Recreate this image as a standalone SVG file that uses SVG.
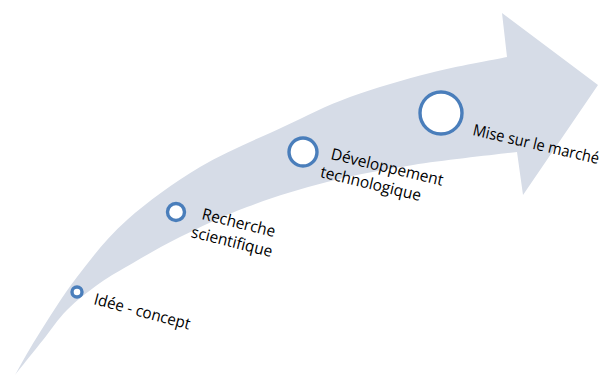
<svg xmlns="http://www.w3.org/2000/svg" width="611" height="376" viewBox="0 0 611 376">
<style>
.stage{fill:#fff;stroke:#4A7EBB;stroke-width:3.4}
.lbl{font-family:"Open Sans","Noto Sans","Liberation Sans",sans-serif;font-size:16px;fill:#000}
</style>
<rect width="611" height="376" fill="#fff"/>
<g id="arrow">
<path fill="#D6DCE7" d="M15,375 C18.7,368.7 26.7,353.3 37,337 C47.3,320.7 62,296.5 77,277 C92,257.5 106.5,238.3 127,220 C147.5,201.7 174,182.5 200,167 C226,151.5 258,138.7 283,127 C308,115.3 325.5,106 350,97 C374.5,88 403.8,79.7 430,73 C456.2,66.3 494.2,59.7 507,57 L502,13 L598,85 L523,195 L517,152 C499.7,154.2 444.7,160 413,165 C381.3,170 354.7,175 327,182 C299.3,189 271.5,197.8 247,207 C222.5,216.2 199,227.7 180,237 C161,246.3 146.3,255.3 133,263 C119.7,270.7 111,275.2 100,283 C89,290.8 76.5,300.5 67,310 C57.5,319.5 51.7,329.2 43,340 C34.3,350.8 19.7,369.2 15,375 Z"/>
</g>
<g id="connectors"></g>
<g id="idee">
<circle class="stage" cx="77" cy="292" r="5"/>
<text class="lbl" transform="translate(93,304) rotate(15)" textLength="99" lengthAdjust="spacingAndGlyphs">Idée - concept</text>
</g>
<g id="recherche">
<circle class="stage" cx="176" cy="212" r="8.5"/>
<text class="lbl" transform="translate(201,219) rotate(14)"><tspan x="0" y="0" textLength="75" lengthAdjust="spacingAndGlyphs">Recherche</tspan><tspan x="-6" y="20" textLength="83" lengthAdjust="spacingAndGlyphs">scientifique</tspan></text>
</g>
<g id="developpement">
<circle class="stage" cx="303" cy="152" r="14"/>
<text class="lbl" transform="translate(330,159) rotate(13.5)"><tspan x="0" y="0" textLength="115" lengthAdjust="spacingAndGlyphs">Développement</tspan><tspan x="-6" y="20" textLength="103" lengthAdjust="spacingAndGlyphs">technologique</tspan></text>
</g>
<g id="marche">
<circle class="stage" cx="441" cy="113" r="21" stroke-width="3.6"/>
<text class="lbl" transform="translate(472,135) rotate(13)" textLength="129" lengthAdjust="spacingAndGlyphs">Mise sur le marché</text>
</g>
</svg>
